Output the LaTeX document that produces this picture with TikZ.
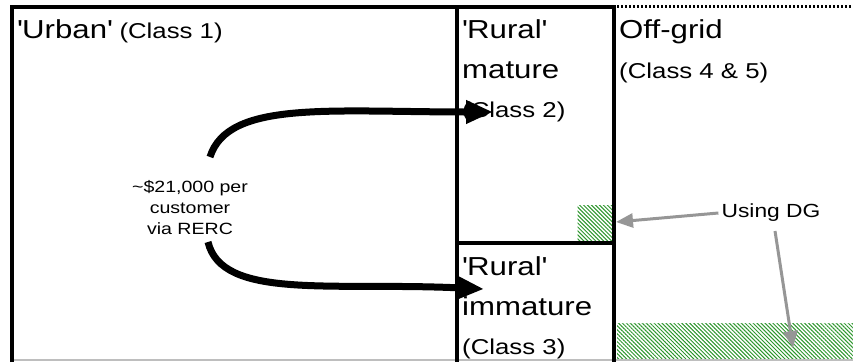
\documentclass[tikz,border=0pt]{standalone}
\usepackage{fontspec}
\setmainfont{Liberation Sans}[FakeStretch=1.2]
\usetikzlibrary{patterns.meta,arrows.meta}

\definecolor{hatchgreen}{RGB}{45,150,45}
\definecolor{callgray}{RGB}{150,150,150}
\definecolor{edgegray}{RGB}{190,190,190}
\newcommand{\sq}{\textquotesingle}

\begin{document}
\begin{tikzpicture}[x=1pt,y=-1pt,
  wall/.style={line width=4pt},
  big/.style={anchor=base west,inner sep=0pt,font=\fontsize{26}{30}\selectfont},
  cls/.style={anchor=base west,inner sep=0pt,font=\fontsize{21.5}{24}\selectfont},
  note/.style={align=center,inner sep=0pt,font=\fontsize{16.3}{21}\selectfont},
  dg/.style={inner sep=0pt,anchor=north west,
    pattern={Lines[angle=-45,distance=2.8pt,line width=1pt]},pattern color=hatchgreen},
  flow/.style={line width=7pt,-{Triangle[length=27pt,width=22pt]}},
  callout/.style={callgray,line width=3pt,-{Triangle[length=17pt,width=14pt]}}
]
\useasboundingbox (0,0) rectangle (853,362);

% hatched areas: customers using distributed generation
\node[dg,minimum width=35pt,minimum height=36pt] (dgsmall) at (577,205) {};
\node[dg,minimum width=236pt,minimum height=37pt] (dgbig) at (617,323) {};

% class boundaries
\draw[edgegray,line width=1.5pt] (14,360) -- (853,360);
\draw[wall] (12,362) -- (12,7) -- (614,7) -- (614,362);
\draw[wall] (457,7) -- (457,362);
\draw[wall] (457,243) -- (614,243);
\draw[line width=3pt,dash pattern=on 2.2pt off 1.8pt] (617,6) -- (853,6);

% class labels
\node[big] (urban) at (17,38) {\sq Urban\sq};
\node[cls] (urbancls) at ([xshift=7pt]urban.base east) {(Class 1)};

\node[big] (rural1) at (462,38) {\sq Rural\sq};
\node[big] (mature) at (462,78) {mature};
\node[cls] (cls2) at (462,117) {(Class 2)};

\node[big] (offgrid) at (619,38) {Off-grid};
\node[cls] (cls45) at (619,78) {(Class 4 \& 5)};

\node[big] (rural2) at (462,275) {\sq Rural\sq};
\node[big] (immature) at (462,315) {immature};
\node[cls] (cls3) at (462,354) {(Class 3)};

% subsidy flows
\node[note] (rerc) at (190,208) {\textasciitilde\$21,000 per\\customer\\via RERC};
\coordinate (upstart) at (210,157);
\coordinate (upend) at (493,112);
\coordinate (lowstart) at (208,242);
\coordinate (lowend) at (484,289);
\draw[flow] (upstart) .. controls (228,100) and (330,112) .. (upend);
\draw[flow] (lowstart) .. controls (222,300) and (330,282) .. (lowend);

% distributed generation callouts
\node[font=\fontsize{19}{21}\selectfont,inner sep=0pt] (usingdg) at (771,213) {Using DG};
\coordinate (dgtip1) at (616,222);
\coordinate (dgtip2) at (793,348);
\draw[callout] ([xshift=-3pt]usingdg.west) -- (dgtip1);
\draw[callout] (775,231) -- (dgtip2);
\end{tikzpicture}
\end{document}
